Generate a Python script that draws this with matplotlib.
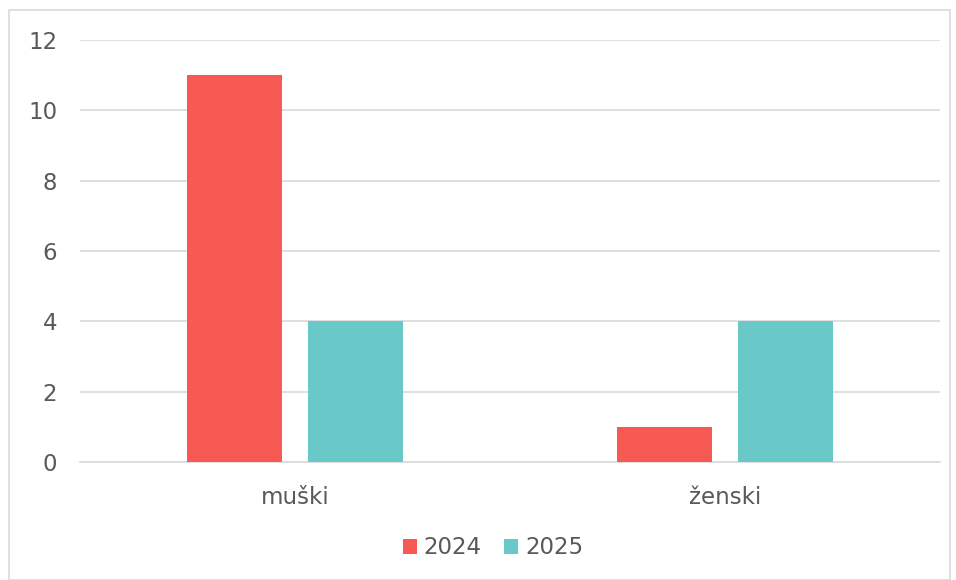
import matplotlib.pyplot as plt
from matplotlib.patches import Rectangle
import numpy as np

# data
categories = ["muški", "ženski"]
values_2024 = [11, 1]
values_2025 = [4, 4]
series_names = ["2024", "2025"]
colors = ["#F75A53", "#69C8C8"]
yticks = [0, 2, 4, 6, 8, 10, 12]

W, H = 956, 580
fig = plt.figure(figsize=(W / 100, H / 100), dpi=100)

# thin grey frame around the whole chart
fig.patches.append(Rectangle((9 / W, 0), (W - 9 - 6) / W, (H - 10) / H,
                             transform=fig.transFigure, fill=False,
                             edgecolor="#D9D9D9", linewidth=1.2))

ax = fig.add_axes([80 / W, (H - 462) / H, (940 - 80) / W, (462 - 40) / H])

x = np.arange(len(categories))
width = 0.222
offset = 0.141
ax.bar(x - offset, values_2024, width, color=colors[0], label=series_names[0], zorder=3)
ax.bar(x + offset, values_2025, width, color=colors[1], label=series_names[1], zorder=3)

ax.set_xlim(-0.5, 1.5)
ax.set_ylim(0, 12)
ax.set_yticks(yticks)
ax.set_xticks(x)
ax.set_xticklabels(categories)

ax.grid(axis="y", color="#D9D9D9", linewidth=1.2, zorder=0)
for side in ["top", "right", "left"]:
    ax.spines[side].set_visible(False)
ax.spines["bottom"].set_color("#D9D9D9")
ax.spines["bottom"].set_linewidth(1.2)

ax.tick_params(axis="both", length=0, labelsize=16.5, labelcolor="#595959")
ax.tick_params(axis="y", pad=16.5)
ax.tick_params(axis="x", pad=17)

fig.legend(loc="center", bbox_to_anchor=(493 / W, 1 - 548 / H), ncol=2,
           frameon=False, fontsize=16.5, labelcolor="#595959",
           handlelength=0.6, handleheight=0.6, handletextpad=0.3,
           columnspacing=1.0)

fig.savefig("out.png", dpi=100)
